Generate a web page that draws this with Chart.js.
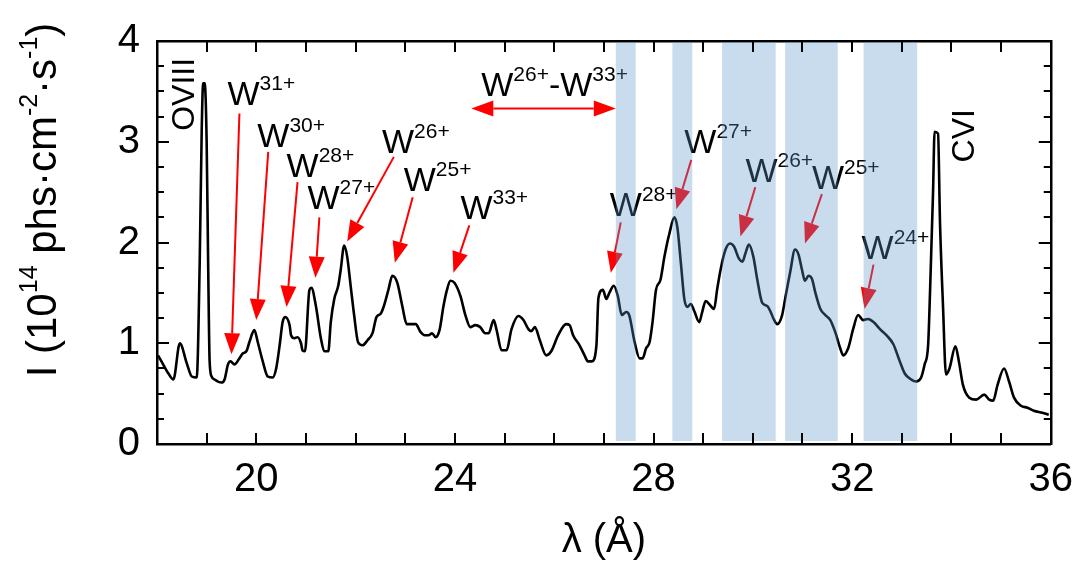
<!DOCTYPE html>
<html>
<head>
<meta charset="utf-8">
<script src="https://cdn.jsdelivr.net/npm/chart.js@4.4.0/dist/chart.umd.min.js"></script>
<style>
  html, body { margin: 0; padding: 0; background: #fff; }
</style>
</head>
<body>
<canvas id="spectrum" width="1085" height="564"></canvas>
<script>
// Wavelength (Å) and intensity (10^14 phs cm^-2 s^-1)
const wavelength = [18.02, 18.09, 18.23, 18.33, 18.46, 18.60, 18.70, 18.80, 18.86, 18.90,
  18.93, 18.96, 19.00, 19.03, 19.06, 19.10, 19.16, 19.30, 19.36, 19.43,
  19.48, 19.56, 19.66, 19.73, 19.80, 19.86, 19.96, 20.03, 20.13, 20.23,
  20.33, 20.40, 20.47, 20.53, 20.58, 20.67, 20.70, 20.77, 20.83, 20.90,
  20.93, 20.98, 21.07, 21.11, 21.20, 21.30, 21.37, 21.45, 21.50, 21.57,
  21.65, 21.70, 21.77, 21.83, 21.90, 21.97, 22.05, 22.14, 22.24, 22.34,
  22.42, 22.50, 22.57, 22.66, 22.74, 22.84, 22.94, 23.03, 23.11, 23.21,
  23.31, 23.39, 23.47, 23.54, 23.61, 23.69, 23.77, 23.84, 23.91, 23.99,
  24.11, 24.21, 24.31, 24.41, 24.51, 24.61, 24.68, 24.78, 24.84, 24.94,
  25.04, 25.14, 25.28, 25.38, 25.48, 25.54, 25.61, 25.71, 25.84, 25.94,
  26.08, 26.24, 26.31, 26.38, 26.51, 26.61, 26.68, 26.76, 26.85, 26.89,
  26.98, 27.05, 27.11, 27.20, 27.28, 27.36, 27.45, 27.51, 27.62, 27.72,
  27.78, 27.85, 27.92, 27.98, 28.05, 28.14, 28.22, 28.32, 28.42, 28.48,
  28.55, 28.62, 28.68, 28.75, 28.82, 28.92, 28.98, 29.05, 29.12, 29.22,
  29.28, 29.35, 29.45, 29.54, 29.62, 29.72, 29.79, 29.85, 29.92, 30.01,
  30.09, 30.19, 30.29, 30.35, 30.42, 30.49, 30.59, 30.65, 30.75, 30.85,
  30.92, 30.99, 31.05, 31.12, 31.19, 31.26, 31.36, 31.46, 31.56, 31.66,
  31.76, 31.82, 31.92, 32.02, 32.12, 32.22, 32.32, 32.43, 32.56, 32.69,
  32.83, 32.96, 33.06, 33.16, 33.29, 33.39, 33.46, 33.53, 33.57, 33.63,
  33.66, 33.73, 33.77, 33.83, 33.89, 33.96, 34.08, 34.15, 34.23, 34.36,
  34.50, 34.66, 34.76, 34.84, 34.93, 35.06, 35.16, 35.26, 35.40, 35.53,
  35.66, 35.83, 35.96];
const intensity = [0.88, 0.82, 0.70, 0.64, 1.00, 0.80, 0.67, 0.66, 1.80, 3.10,
  3.58, 3.58, 3.00, 1.80, 0.82, 0.67, 0.64, 0.61, 0.64, 0.79,
  0.82, 0.79, 0.85, 0.90, 0.92, 1.01, 1.13, 1.01, 0.82, 0.67,
  0.66, 0.75, 0.98, 1.21, 1.26, 1.18, 1.08, 1.05, 1.06, 1.00,
  0.93, 0.92, 1.53, 1.55, 1.37, 1.05, 0.92, 0.92, 1.21, 1.44,
  1.57, 1.73, 1.97, 1.86, 1.57, 1.28, 1.01, 0.98, 1.03, 1.10,
  1.26, 1.29, 1.37, 1.53, 1.67, 1.60, 1.37, 1.19, 1.19, 1.19,
  1.11, 1.08, 1.08, 1.10, 1.06, 1.13, 1.37, 1.53, 1.62, 1.60,
  1.47, 1.28, 1.16, 1.18, 1.16, 1.10, 1.10, 1.23, 1.13, 0.93,
  0.93, 1.14, 1.27, 1.23, 1.14, 1.12, 1.16, 1.03, 0.88, 0.92,
  1.08, 1.19, 1.18, 1.08, 0.98, 0.88, 0.82, 0.82, 0.98, 1.45,
  1.53, 1.44, 1.50, 1.57, 1.47, 1.28, 1.31, 1.28, 1.01, 0.85,
  0.85, 0.95, 1.01, 1.21, 1.53, 1.63, 1.86, 2.09, 2.25, 2.15,
  1.80, 1.44, 1.36, 1.39, 1.32, 1.21, 1.31, 1.42, 1.39, 1.34,
  1.53, 1.73, 1.93, 1.99, 1.96, 1.84, 1.81, 1.89, 1.98, 1.86,
  1.63, 1.40, 1.37, 1.32, 1.24, 1.19, 1.28, 1.44, 1.70, 1.93,
  1.88, 1.73, 1.62, 1.67, 1.64, 1.50, 1.34, 1.28, 1.23, 1.11,
  0.95, 0.88, 0.95, 1.14, 1.28, 1.23, 1.24, 1.21, 1.14, 1.08,
  0.99, 0.82, 0.70, 0.65, 0.62, 0.66, 0.79, 0.98, 1.53, 2.51,
  3.10, 3.08, 2.19, 1.37, 0.69, 0.75, 0.97, 0.82, 0.59, 0.46,
  0.44, 0.49, 0.44, 0.43, 0.59, 0.75, 0.62, 0.46, 0.38, 0.36,
  0.33, 0.31, 0.29];

const xTickLabels = [20, 24, 28, 32, 36];
const yTickLabels = [0, 1, 2, 3, 4];

// shaded wavelength windows (Å)
const bandStart = [27.24, 28.38, 29.38, 30.65, 32.23];
const bandEnd = [27.64, 28.78, 30.46, 31.71, 33.31];

const FONT = "'Liberation Sans', Arial, sans-serif";

// ion labels with arrows: text anchor, arrow tail and arrow tip, in axis units
const ionLabels = [
  { parts: [['W', 0], ['31+', 1]], at: [19.42, 3.36], from: [19.66, 3.28], to: [19.50, 0.89] },
  { parts: [['W', 0], ['30+', 1]], at: [20.02, 2.95], from: [20.24, 2.90], to: [20.00, 1.23] },
  { parts: [['W', 0], ['28+', 1]], at: [20.61, 2.65], from: [20.83, 2.60], to: [20.61, 1.36] },
  { parts: [['W', 0], ['27+', 1]], at: [21.03, 2.33], from: [21.27, 2.25], to: [21.19, 1.65] },
  { parts: [['W', 0], ['26+', 1]], at: [22.53, 2.89], from: [22.77, 2.85], to: [21.83, 2.01] },
  { parts: [['W', 0], ['25+', 1]], at: [22.97, 2.51], from: [23.15, 2.45], to: [22.79, 1.80] },
  { parts: [['W', 0], ['33+', 1]], at: [24.11, 2.23], from: [24.29, 2.17], to: [23.97, 1.70] },
  { parts: [['W', 0], ['28+', 1]], at: [27.12, 2.26], from: [27.34, 2.20], to: [27.14, 1.70] },
  { parts: [['W', 0], ['27+', 1]], at: [28.62, 2.89], from: [28.76, 2.82], to: [28.46, 2.33] },
  { parts: [['W', 0], ['26+', 1]], at: [29.85, 2.60], from: [30.05, 2.55], to: [29.75, 2.06] },
  { parts: [['W', 0], ['25+', 1]], at: [31.19, 2.53], from: [31.39, 2.48], to: [31.05, 1.99] },
  { parts: [['W', 0], ['24+', 1]], at: [32.19, 1.84], from: [32.43, 1.78], to: [32.25, 1.34] }
];
const rangeLabel = { parts: [['W', 0], ['26+', 1], ['-W', 0], ['33+', 1]], at: [24.53, 3.45], from: 24.33, to: 27.24, y: 3.33 };
const lineLabels = [
  { text: 'OVIII', at: [18.56, 3.47] },
  { text: 'CVI', at: [34.28, 3.06] }
];

function drawParts(ctx, parts, x, y, size, supSize, rise) {
  let cx = x;
  parts.forEach(([t, sup]) => {
    ctx.font = (sup ? supSize : size) + 'px ' + FONT;
    ctx.fillText(t, cx, sup ? y - rise : y);
    cx += ctx.measureText(t).width;
  });
  return cx - x;
}

function partsWidth(ctx, parts, size, supSize) {
  let w = 0;
  parts.forEach(([t, sup]) => {
    ctx.font = (sup ? supSize : size) + 'px ' + FONT;
    w += ctx.measureText(t).width;
  });
  return w;
}

function arrowHead(ctx, x1, y1, x2, y2, len, half) {
  const a = Math.atan2(y2 - y1, x2 - x1);
  const bx = x2 - len * Math.cos(a), by = y2 - len * Math.sin(a);
  ctx.beginPath();
  ctx.moveTo(x2, y2);
  ctx.lineTo(bx + half * Math.sin(a), by - half * Math.cos(a));
  ctx.lineTo(bx - half * Math.sin(a), by + half * Math.cos(a));
  ctx.closePath();
  ctx.fill();
  return [bx, by];
}

const decorations = {
  id: 'decorations',
  afterDatasetsDraw(chart) {
    const { ctx, chartArea: area } = chart;
    const xs = chart.scales.x, ys = chart.scales.y;
    const px = v => xs.getPixelForValue(v), py = v => ys.getPixelForValue(v);
    ctx.save();
    ctx.setLineDash([]);
    ctx.textBaseline = 'alphabetic';
    ctx.textAlign = 'left';

    // ion labels and arrows
    ionLabels.forEach(l => {
      ctx.fillStyle = '#000';
      drawParts(ctx, l.parts, px(l.at[0]), py(l.at[1]), 34, 21, 15);
      ctx.strokeStyle = '#ff0000';
      ctx.fillStyle = '#ff0000';
      ctx.lineWidth = 2;
      const x1 = px(l.from[0]), y1 = py(l.from[1]), x2 = px(l.to[0]), y2 = py(l.to[1]);
      const [bx, by] = arrowHead(ctx, x1, y1, x2, y2, 21, 8);
      ctx.beginPath();
      ctx.moveTo(x1, y1);
      ctx.lineTo(bx, by);
      ctx.stroke();
    });

    // range label with double arrow
    ctx.fillStyle = '#000';
    drawParts(ctx, rangeLabel.parts, px(rangeLabel.at[0]), py(rangeLabel.at[1]), 34, 21, 15);
    ctx.strokeStyle = '#ff0000';
    ctx.fillStyle = '#ff0000';
    const ra = px(rangeLabel.from), rb = px(rangeLabel.to), ry = py(rangeLabel.y);
    const [lx] = arrowHead(ctx, rb, ry, ra, ry, 22, 8);
    const [rx] = arrowHead(ctx, ra, ry, rb, ry, 22, 8);
    ctx.beginPath();
    ctx.moveTo(lx, ry);
    ctx.lineTo(rx, ry);
    ctx.stroke();

    // rotated line identifications
    ctx.fillStyle = '#000';
    ctx.font = '32px ' + FONT;
    ctx.textAlign = 'center';
    ctx.textBaseline = 'middle';
    lineLabels.forEach(l => {
      ctx.save();
      ctx.translate(px(l.at[0]), py(l.at[1]));
      ctx.rotate(-Math.PI / 2);
      ctx.fillText(l.text, 0, 0);
      ctx.restore();
    });

    // translucent wavelength windows on top of everything inside the frame
    ctx.fillStyle = 'rgba(91, 149, 203, 0.33)';
    bandStart.forEach((s, i) => {
      const a = px(s), b = px(bandEnd[i]);
      ctx.fillRect(a, area.top + 1, b - a, area.bottom - area.top - 4);
    });

    // inward ticks on all four sides
    ctx.fillStyle = '#000';
    xs.ticks.forEach(t => {
      const x = Math.round(px(t.value));
      ctx.fillRect(x - 1, area.bottom - 11, 2, 11);
      ctx.fillRect(x - 1, area.top, 2, 11);
    });
    ys.ticks.forEach(t => {
      const y = Math.round(py(t.value));
      const len = Number.isInteger(t.value) ? 12 : 7;
      ctx.fillRect(area.left, y - 1, len, 2);
      ctx.fillRect(area.right - len, y - 1, len, 2);
    });

    // axis titles
    ctx.fillStyle = '#000';
    ctx.textAlign = 'center';
    ctx.textBaseline = 'alphabetic';
    ctx.font = '40px ' + FONT;
    ctx.fillText('λ (Å)', (area.left + area.right) / 2, 552);

    const yTitle = [['I (10', 0], ['14', 1], [' phs·cm', 0], ['-2', 1], ['·s', 0], ['-1', 1], [')', 0]];
    ctx.textAlign = 'left';
    ctx.save();
    ctx.translate(56, 200);
    ctx.rotate(-Math.PI / 2);
    const w = partsWidth(ctx, yTitle, 42, 25);
    drawParts(ctx, yTitle, -w / 2, 0, 42, 25, 19);
    ctx.restore();
    ctx.restore();
  }
};

const points = wavelength.map((x, i) => ({ x: x, y: intensity[i] }));

// frame drawn by the scales' own borders (top and right come from mirror axes)
const frameBorder = { display: true, color: '#000', width: 2.5 };

new Chart(document.getElementById('spectrum'), {
  type: 'line',
  data: {
    datasets: [{
      data: points,
      borderColor: '#000',
      borderWidth: 2.6,
      pointRadius: 0,
      cubicInterpolationMode: 'monotone',
      fill: false
    }]
  },
  options: {
    responsive: false,
    animation: false,
    devicePixelRatio: 1,
    layout: { padding: { top: 0, right: 0, left: 0, bottom: 0 } },
    plugins: { legend: { display: false }, tooltip: { enabled: false } },
    scales: {
      x: {
        type: 'linear',
        position: 'bottom',
        min: 18,
        max: 36,
        grid: { display: false, drawTicks: false },
        border: frameBorder,
        ticks: {
          stepSize: 1,
          autoSkip: false,
          maxRotation: 0,
          padding: 12,
          color: '#000',
          font: { family: FONT, size: 40 },
          callback: v => xTickLabels.includes(v) ? String(v) : ''
        },
        afterFit: s => { s.height = 120; }
      },
      xTop: {
        type: 'linear',
        position: 'top',
        min: 18,
        max: 36,
        grid: { display: false, drawTicks: false },
        border: frameBorder,
        ticks: { display: false },
        afterFit: s => { s.height = 34; }
      },
      y: {
        position: 'left',
        min: 0,
        max: 4,
        grid: { display: false, drawTicks: false },
        border: frameBorder,
        ticks: {
          stepSize: 0.25,
          autoSkip: false,
          padding: 17,
          color: '#000',
          font: { family: FONT, size: 40 },
          callback: v => yTickLabels.includes(v) ? String(v) : ''
        },
        afterFit: s => { s.width = 157; }
      },
      yRight: {
        position: 'right',
        min: 0,
        max: 4,
        grid: { display: false, drawTicks: false },
        border: frameBorder,
        ticks: { display: false },
        afterFit: s => { s.width = 30; }
      }
    }
  },
  plugins: [decorations]
});
</script>
</body>
</html>
